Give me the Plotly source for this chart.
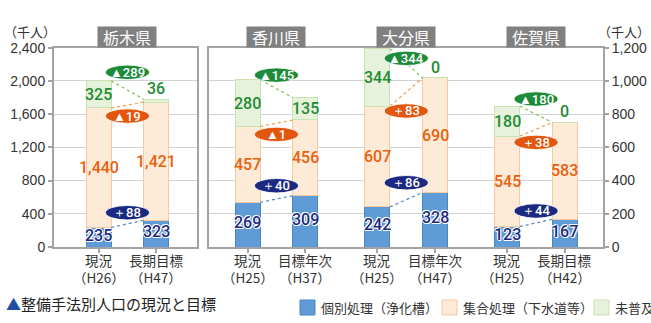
import plotly.graph_objects as go

# ---------------- data ----------------
prefs = ["栃木県", "香川県", "大分県", "佐賀県"]
cat_names = [["現況", "長期目標"], ["現況", "目標年次"], ["現況", "目標年次"], ["現況", "長期目標"]]
cat_years = [["（H26）", "（H47）"], ["（H25）", "（H37）"], ["（H25）", "（H47）"], ["（H25）", "（H42）"]]
individual = [[235, 323], [269, 309], [242, 328], [123, 167]]      # 個別処理（浄化槽）
collective = [[1440, 1421], [457, 456], [607, 690], [545, 583]]    # 集合処理（下水道等）
unserved = [[325, 36], [280, 135], [344, 0], [180, 0]]             # 未普及
# vertical placement of the change ovals (axis units)
oval_y_unserved = [2104, 1035, 1136, 891]
oval_y_collective = [1577, 678, 819, 630]
oval_y_individual = [413, 369, 387, 217]

series_names = ["個別処理（浄化槽）", "集合処理（下水道等）", "未普及"]

# ---------------- styles ----------------
W, H = 651, 323
FONT = "Liberation Sans, Arial, Noto Sans CJK JP, sans-serif"
NFONT = "Roboto, Liberation Sans, sans-serif"
JFONT = "Noto Sans CJK JP, sans-serif"
fills = ["#5f9bd6", "#fdebd8", "#e7f2dc"]
edges = ["#4a86c4", "#f7c9a0", "#c9e2b4"]
label_cols = ["#1c2a7e", "#e8610f", "#1f8c33"]
oval_cols = ["#1b2a80", "#e2560e", "#1e8b3a"]
dot_cols = ["#4f86c6", "#f39a4e", "#84c150"]
AX = "#a3a3a3"
GRID = "#d2d2d2"
BW = 0.435


def px(x):
    return x / W


def py(y):
    return 1 - y / H


y_top, y_bot = 47.7, 247.0
ydom = [py(y_bot), py(y_top)]

fig = go.Figure()
annotations = []
shapes = []


def fmt(v):
    return f"{v:,}"


def chg(v):
    return ("▲" if v < 0 else "＋") + f"{abs(v):,}"


group_axes = []
group_pos = []
for g in range(4):
    if g == 0:
        xa, ya = "x", "y"
        base = 0.0
    else:
        xa, ya = "x2", "y2"
        base = (g - 1) * 2.25
    group_axes.append((xa, ya))
    group_pos.append([base, base + 1])

ticks = {"x": [], "x2": []}

for g in range(4):
    xa, ya = group_axes[g]
    xs = group_pos[g]
    ticks[xa].extend(xs)
    for i in range(2):
        annotations.append(dict(x=xs[i], y=py(259.5), xref=xa, yref="paper", text=cat_names[g][i],
                                showarrow=False, yanchor="middle", xanchor="center",
                                font=dict(family=JFONT, size=13.5, color="#333")))
        annotations.append(dict(x=xs[i], y=py(276.5), xref=xa, yref="paper", text=cat_years[g][i],
                                showarrow=False, yanchor="middle", xanchor="center",
                                font=dict(family=JFONT, size=13.5, color="#333")))
    vals = [individual[g], collective[g], unserved[g]]
    for s in range(3):
        fig.add_trace(go.Bar(
            x=xs, y=vals[s], width=BW, xaxis=xa, yaxis=ya,
            marker=dict(color=fills[s], line=dict(color=edges[s], width=1)),
            name=series_names[s], showlegend=False, hoverinfo="skip"))
    tops = []
    cum = [0, 0]
    for s in range(3):
        cum = [cum[i] + vals[s][i] for i in range(2)]
        tops.append(list(cum))
    bottoms = [[0, 0], tops[0], tops[1]]
    for s in range(3):
        for i in range(2):
            v = vals[s][i]
            font = dict(family=NFONT, size=16, color=label_cols[s], weight=500)
            if s == 0:
                font["shadow"] = "1px 0 0 #fff, -1px 0 0 #fff, 0 1px 0 #fff, 0 -1px 0 #fff, 1px 1px 0 #fff, -1px -1px 0 #fff"
            small = s == 2 and v < 60
            if small:
                annotations.append(dict(x=xs[i], y=tops[s][i], xref=xa, yref=ya, text=fmt(v),
                                        showarrow=False, yanchor="bottom", yshift=-1, font=font))
            else:
                mid = (bottoms[s][i] + tops[s][i]) / 2
                annotations.append(dict(x=xs[i], y=mid, xref=xa, yref=ya, text=fmt(v),
                                        showarrow=False, yanchor="middle", yshift=2 if s == 0 else 0,
                                        font=font))
    for s in range(3):
        fig.add_trace(go.Scatter(
            x=[xs[0] + BW / 2, xs[1] - BW / 2], y=[tops[s][0], tops[s][1]],
            xaxis=xa, yaxis=ya, mode="lines",
            line=dict(color=dot_cols[s], width=1.2, dash="dot"),
            showlegend=False, hoverinfo="skip"))
    cx = (xs[0] + xs[1]) / 2
    oys = [oval_y_individual[g], oval_y_collective[g], oval_y_unserved[g]]
    for s in range(3):
        d = vals[s][1] - vals[s][0]
        shapes.append(dict(type="circle", xref=xa, yref=ya, xsizemode="pixel", ysizemode="pixel",
                           xanchor=cx, yanchor=oys[s], x0=-22, x1=22, y0=-7.2, y1=7.2,
                           fillcolor=oval_cols[s], line=dict(width=0.8, color="white"), layer="above"))
        annotations.append(dict(x=cx, y=oys[s], xref=xa, yref=ya, text=chg(d), showarrow=False,
                                font=dict(family=NFONT, size=13, color="white", weight=500),
                                yanchor="middle"))
    annotations.append(dict(x=cx, y=py(y_top), xref=xa, yref="paper", text=prefs[g],
                            showarrow=False, yanchor="bottom", bgcolor="#808080",
                            width=58, height=20, borderpad=0,
                            font=dict(family=JFONT, size=16, color="white")))

annotations.append(dict(x=px(30), y=py(31), xref="paper", yref="paper", text="（千人）",
                        showarrow=False, yanchor="middle", xanchor="center",
                        font=dict(family=JFONT, size=13, color="#333")))
annotations.append(dict(x=px(624), y=py(31), xref="paper", yref="paper", text="（千人）",
                        showarrow=False, yanchor="middle", xanchor="center",
                        font=dict(family=JFONT, size=13, color="#333")))
annotations.append(dict(x=px(4), y=py(303), xref="paper", yref="paper", xanchor="left",
                        yanchor="middle",
                        text="<span style='color:#1f4fa0'>▲</span>整備手法別人口の現況と目標",
                        showarrow=False, font=dict(family=JFONT, size=15, color="#222")))
leg_x = [300, 442, 594]
for s in range(3):
    shapes.append(dict(type="rect", xref="paper", yref="paper",
                       x0=px(leg_x[s]), x1=px(leg_x[s] + 15), y0=py(315), y1=py(300),
                       fillcolor=fills[s], line=dict(color=edges[s], width=1)))
    annotations.append(dict(x=px(leg_x[s] + 19), y=py(307.5), xref="paper", yref="paper",
                            xanchor="left", yanchor="middle", text=series_names[s], showarrow=False,
                            font=dict(family=JFONT, size=13, color="#333")))

axis_common = dict(showline=True, linecolor=AX, linewidth=2, mirror=True, zeroline=False,
                   automargin=False)

fig.update_layout(
    width=W, height=H, margin=dict(l=0, r=0, t=0, b=0, autoexpand=False),
    paper_bgcolor="white", plot_bgcolor="white",
    barmode="stack", showlegend=False,
    font=dict(family=FONT, color="#333"),
    annotations=annotations, shapes=shapes,
    xaxis=dict(domain=[px(54), px(196.5)], range=[-0.777, 1.70], anchor="y",
               tickvals=ticks["x"], showticklabels=False, ticks="outside", ticklen=4,
               tickcolor=AX, tickwidth=1.5, showgrid=False, **axis_common),
    yaxis=dict(domain=ydom, range=[0, 2400], dtick=400, tickformat=",", anchor="x",
               ticks="outside", ticklen=4, tickcolor=AX, tickwidth=1.5,
               showgrid=True, gridcolor=GRID, gridwidth=1,
               tickfont=dict(family=FONT, size=14, color="#333"), **axis_common),
    xaxis2=dict(domain=[px(209), px(603)], range=[-0.67, 6.16], anchor="y2",
                tickvals=ticks["x2"], showticklabels=False, ticks="outside", ticklen=4,
                tickcolor=AX, tickwidth=1.5, showgrid=False, **axis_common),
    yaxis2=dict(domain=ydom, range=[0, 1200], dtick=200, tickformat=",", anchor="x2",
                side="right", ticks="outside", ticklen=4, tickcolor=AX, tickwidth=1.5,
                showgrid=True, gridcolor=GRID, gridwidth=1,
                tickfont=dict(family=FONT, size=14, color="#333"), **axis_common),
)

fig.write_html("out.html")
